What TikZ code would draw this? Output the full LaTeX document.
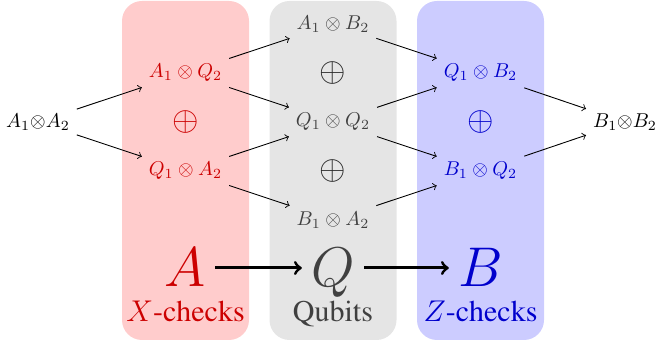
\RequirePackage{fix-cm}
\documentclass[tikz,border=0pt]{standalone}
\usepackage[T1]{fontenc}
\usepackage{tikz}
\usetikzlibrary{calc}
\definecolor{xFill}{HTML}{FFCCCC}
\definecolor{qFill}{HTML}{E5E5E5}
\definecolor{zFill}{HTML}{CCCCFF}
\definecolor{xText}{HTML}{CC0000}
\definecolor{qText}{HTML}{404040}
\definecolor{zText}{HTML}{0000CC}
\def\colX{92.75}
\def\colQ{166.5}
\def\colZ{240.25}
\def\colIn{19}
\def\colOut{312.5}
\def\boxHalfW{31.75}
\def\boxBotY{0.5}
\def\boxTopY{170}
\def\boxR{10pt}
\def\midY{109.5}
\def\rowStep{24.5}
\def\symY{36.5}
\def\capY{9.7}

\tikzset{
  term/.style={font=\normalsize},
  plus/.style={font=\fontsize{17}{19}\selectfont},
  bigsym/.style={font=\fontsize{28}{30}\selectfont, text height=19pt, text depth=0pt, inner sep=4.5pt},
  caption/.style={font=\fontfamily{ptm}\fontsize{15}{17}\selectfont, anchor=base},
  flow/.style={->, line width=0.45pt},
  mainflow/.style={->, line width=1.5pt}
}

\begin{document}
\begin{tikzpicture}[x=1pt, y=1pt]
  \useasboundingbox (0,0) rectangle (329.5,170.5);

  % Column boxes
  \fill[xFill, rounded corners=\boxR]
    ({\colX-\boxHalfW}, \boxBotY) rectangle ({\colX+\boxHalfW}, \boxTopY);
  \fill[qFill, rounded corners=\boxR]
    ({\colQ-\boxHalfW}, \boxBotY) rectangle ({\colQ+\boxHalfW}, \boxTopY);
  \fill[zFill, rounded corners=\boxR]
    ({\colZ-\boxHalfW}, \boxBotY) rectangle ({\colZ+\boxHalfW}, \boxTopY);

  % Input and output terms
  \node[term] (inAA) at (\colIn, \midY) {$A_1{\otimes}A_2$};
  \node[term] (outBB) at (\colOut, \midY) {$B_1{\otimes}B_2$};

  % X-check column
  \node[term, xText] (xAQ) at (\colX, {\midY+\rowStep}) {$A_1\otimes Q_2$};
  \node[plus, xText] (xPlus) at (\colX, \midY) {$\oplus$};
  \node[term, xText] (xQA) at (\colX, {\midY-\rowStep}) {$Q_1\otimes A_2$};

  % Qubit column
  \node[term, qText] (qAB) at (\colQ, {\midY+2*\rowStep}) {$A_1\otimes B_2$};
  \node[plus, black!85] (qPlusTop) at (\colQ, {\midY+\rowStep}) {$\oplus$};
  \node[term, qText] (qQQ) at (\colQ, \midY) {$Q_1\otimes Q_2$};
  \node[plus, black!85] (qPlusBot) at (\colQ, {\midY-\rowStep}) {$\oplus$};
  \node[term, qText] (qBA) at (\colQ, {\midY-2*\rowStep}) {$B_1\otimes A_2$};

  % Z-check column
  \node[term, zText] (zQB) at (\colZ, {\midY+\rowStep}) {$Q_1\otimes B_2$};
  \node[plus, zText] (zPlus) at (\colZ, \midY) {$\oplus$};
  \node[term, zText] (zBQ) at (\colZ, {\midY-\rowStep}) {$B_1\otimes Q_2$};

  % Maps between terms
  \draw[flow] (inAA) -- (xAQ);
  \draw[flow] (inAA) -- (xQA);
  \draw[flow] (xAQ) -- (qAB);
  \draw[flow] (xAQ) -- (qQQ);
  \draw[flow] (xQA) -- (qQQ);
  \draw[flow] (xQA) -- (qBA);
  \draw[flow] (qAB) -- (zQB);
  \draw[flow] (qQQ) -- (zQB);
  \draw[flow] (qQQ) -- (zBQ);
  \draw[flow] (qBA) -- (zBQ);
  \draw[flow] (zQB) -- (outBB);
  \draw[flow] (zBQ) -- (outBB);

  % Big symbols and captions
  \node[bigsym, xText] (symA) at (\colX, \symY) {$A$};
  \node[bigsym, qText] (symQ) at (\colQ, \symY) {$Q$};
  \node[bigsym, zText] (symB) at (\colZ, \symY) {$B$};
  \draw[mainflow] (symA) -- (symQ);
  \draw[mainflow] (symQ) -- (symB);

  \node[caption, xText] (capX) at (\colX, \capY) {$X$-checks};
  \node[caption, qText] (capQ) at (\colQ, \capY) {Qubits};
  \node[caption, zText] (capZ) at (\colZ, \capY) {$Z$-checks};
\end{tikzpicture}
\end{document}
